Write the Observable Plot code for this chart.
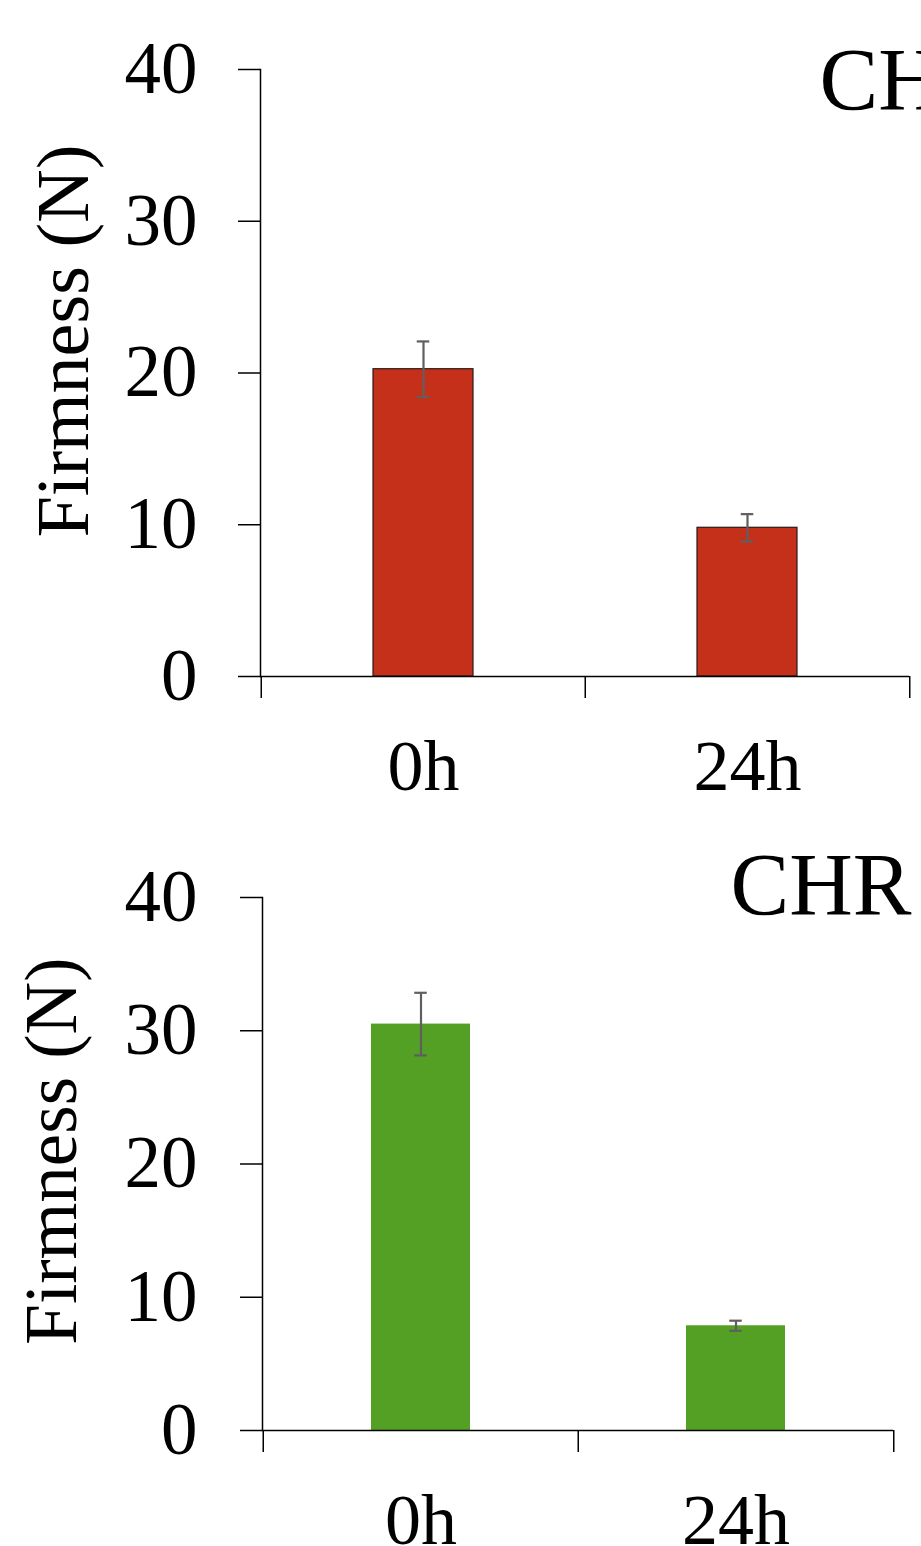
<!DOCTYPE html>
<html>
<head>
<meta charset="utf-8">
<script src="https://cdn.jsdelivr.net/npm/d3@7"></script>
<script src="https://cdn.jsdelivr.net/npm/@observablehq/plot@0.6"></script>
<style>
  html, body { margin: 0; padding: 0; background: #fff; overflow: hidden; width: 921px; height: 1546px; }
  #chart svg { display: block; }
</style>
</head>
<body>
<div id="chart"></div>
<script>
// ---- data ----
const categories = ["0h", "24h"];
const yTicks = [0, 10, 20, 30, 40];
const yLabel = "Firmness (N)";

const topTitle = "CHR";
const topMeans = [20.25, 9.8];
const topSD = [1.83, 0.9];

const bottomTitle = "CHR";
const bottomMeans = [30.5, 7.86];
const bottomSD = [2.35, 0.38];

const font = "Liberation Serif";

function panel(cfg) {
  const data = categories.map((c, i) => ({t: c, v: cfg.means[i], lo: cfg.means[i] - cfg.sd[i], hi: cfg.means[i] + cfg.sd[i]}));
  const bw = (cfg.width - cfg.marginLeft - cfg.marginRight) / categories.length;
  return Plot.plot({
    width: cfg.width,
    height: cfg.height,
    marginTop: cfg.marginTop,
    marginBottom: cfg.marginBottom,
    marginLeft: cfg.marginLeft,
    marginRight: cfg.marginRight,
    style: {fontFamily: font, background: "white", overflow: "visible", color: "black"},
    x: {type: "band", domain: categories, padding: 0},
    y: {domain: [0, 40]},
    marks: [
      Plot.barY(data, {x: "t", y: "v", fill: cfg.fill, stroke: cfg.stroke, strokeWidth: 1.2, insetLeft: cfg.inset, insetRight: cfg.inset}),
      Plot.ruleX(data, {x: "t", y1: "lo", y2: "hi", stroke: "#5f5f5f", strokeWidth: 2.2}),
      Plot.tickY(data, {x: "t", y: "hi", stroke: "#5f5f5f", strokeWidth: 2.2, insetLeft: bw / 2 - 6.5, insetRight: bw / 2 - 6.5}),
      Plot.tickY(data, {x: "t", y: "lo", stroke: "#5f5f5f", strokeWidth: 2.2, insetLeft: bw / 2 - 6.5, insetRight: bw / 2 - 6.5}),
      Plot.frame({anchor: "left", stroke: "black", strokeWidth: 1.5}),
      Plot.ruleY([0], {stroke: "black", strokeWidth: 1.5}),
      // band boundary ticks on x axis
      Plot.ruleX(categories, {x: d => d, y1: 0, y2: 0, dx: -bw / 2, insetBottom: -22, stroke: "black", strokeWidth: 1.5}),
      Plot.ruleX(categories.slice(-1), {x: d => d, y1: 0, y2: 0, dx: bw / 2, insetBottom: -22, stroke: "black", strokeWidth: 1.5}),
      Plot.axisY({ticks: yTicks, tickSize: 22, tickPadding: cfg.yPad, fontSize: 73, label: null, stroke: "black", strokeWidth: 1.5, tickFormat: d => String(d)}),
      Plot.axisX({tickSize: 0, tickPadding: cfg.xPad, fontSize: 72, label: null}),
      Plot.text([yLabel], {frameAnchor: "left", textAnchor: "middle", rotate: -90, dx: cfg.labelDx, dy: cfg.labelDy, fontSize: cfg.labelSize, fill: "black"}),
      Plot.text([cfg.title], {frameAnchor: "top-left", textAnchor: "start", dx: cfg.titleDx, dy: cfg.titleDy, fontSize: 88, fill: "black"})
    ]
  });
}

const topPanel = panel({
  width: 921, height: 810, marginTop: 69, marginBottom: 134, marginLeft: 260, marginRight: 12,
  means: topMeans, sd: topSD, fill: "#C4301A", stroke: "#2a1a16", inset: 112,
  yPad: 41, xPad: 62, labelDx: -196, labelDy: -32, labelSize: 74,
  title: topTitle, titleDx: 559, titleDy: -23
});
const bottomPanel = panel({
  width: 921, height: 736, marginTop: 87, marginBottom: 116, marginLeft: 262, marginRight: 28,
  means: bottomMeans, sd: bottomSD, fill: "#54A024", stroke: "none", inset: 108,
  yPad: 43, xPad: 62, labelDx: -210, labelDy: -13, labelSize: 73,
  title: bottomTitle, titleDx: 468, titleDy: -46
});
document.getElementById("chart").append(topPanel, bottomPanel);
</script>
</body>
</html>
